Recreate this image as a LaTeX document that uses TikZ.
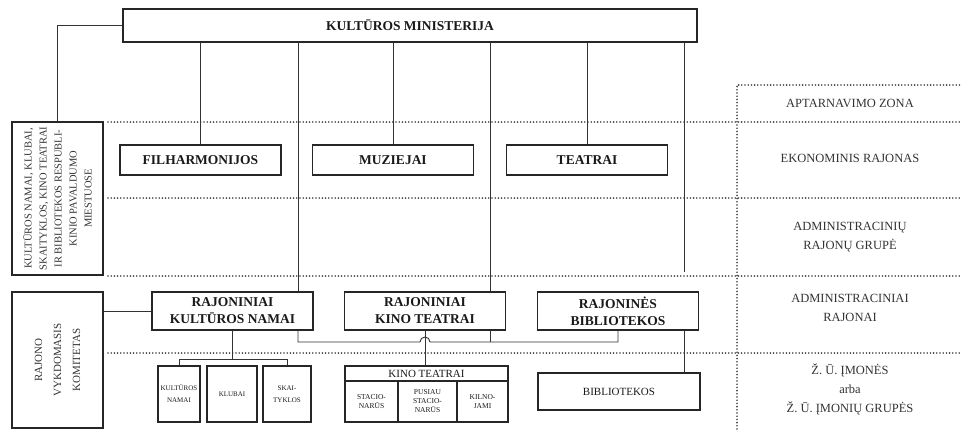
\documentclass[tikz,border=0pt]{standalone}
\usepackage{fontspec}
\setmainfont{Liberation Serif}

\begin{document}
\begin{tikzpicture}[x=1pt, y=-1pt,
    box/.style={draw=black!85, line width=1.1pt, inner sep=0pt, align=center, text=black!90,
      font=\bfseries\fontsize{13.5}{17}\selectfont},
    size/.style 2 args={minimum width=#1pt, minimum height=#2pt},
    plain/.style={box, font=\fontsize{11}{13}\selectfont},
    tiny/.style={box, font=\fontsize{7}{12.5}\selectfont},
    cell/.style={box, font=\fontsize{7.5}{9}\selectfont},
    side/.style={rotate=90, align=center, text=black!80},
    lbl/.style={align=center, text=black!80, font=\fontsize{12.5}{19}\selectfont},
    zone/.style={black!75, line width=1.8pt, line cap=round, dash pattern=on 0pt off 3.2pt},
    link/.style={black!80, line width=0.9pt}]
  \useasboundingbox (0,0) rectangle (962,429);

  % zones
  \foreach \y in {122,198,276,353}
    \draw[zone] (108,\y) -- (962,\y);
  \draw[zone] (737,429) -- (737,85) -- (962,85);
  \node[lbl] (aptzona) at (850,103) {APTARNAVIMO ZONA};
  \node[lbl] (ekraj) at (850,158) {EKONOMINIS RAJONAS};
  \node[lbl] (admgr) at (850,237.5) {ADMINISTRACINIŲ\\RAJONŲ GRUPĖ};
  \node[lbl] (admraj) at (850,308) {ADMINISTRACINIAI\\RAJONAI};
  \node[lbl] (zuim) at (850,389) {Ž. Ū. ĮMONĖS\\arba\\Ž. Ū. ĮMONIŲ GRUPĖS};

  % boxes
  \node[box, line width=2.6pt, size={574}{33}] (mini) at (410,25.5) {KULTŪROS MINISTERIJA};
  \node[box, size={91}{153}] (lka) at (57.5,198.5) {};
  \node[side, font=\fontsize{10.5}{15}\selectfont] (lkatxt) at (lka)
    {KULTŪROS NAMAI, KLUBAI,\\SKAITYKLOS, KINO TEATRAI\\IR BIBLIOTEKOS RESPUBLI-\\KINIO PAVALDUMO\\MIESTUOSE};
  \node[box, size={91}{136}] (rvk) at (57.5,360) {};
  \node[side, font=\fontsize{11}{19}\selectfont] (rvktxt) at (rvk)
    {RAJONO\\VYKDOMASIS\\KOMITETAS};

  \node[box, size={161}{30}] (fil) at (200.5,160) {FILHARMONIJOS};
  \node[box, size={161}{30}] (muz) at (393,160) {MUZIEJAI};
  \node[box, size={161}{30}] (tea) at (587,160) {TEATRAI};

  \node[box, size={161}{38}] (rkn) at (232.5,311) {RAJONINIAI\\KULTŪROS NAMAI};
  \node[box, size={161}{38}] (rkt) at (425,311) {RAJONINIAI\\KINO TEATRAI};
  \node[box, size={161}{38}] (rbib) at (618,311) {RAJONINĖS\\BIBLIOTEKOS};

  \node[tiny, size={42}{56}] (kn1) at (179,394) {KULTŪROS\\NAMAI};
  \node[tiny, size={50}{56}] (kn2) at (232,394) {KLUBAI};
  \node[tiny, size={48}{56}] (kn3) at (287,394) {SKAI-\\TYKLOS};

  \node[plain, size={163}{15}] (kth) at (426.5,373.5) {KINO TEATRAI};
  \node[cell, size={53}{41}] (kt1) at (371.5,401.5) {STACIO-\\NARŪS};
  \node[cell, size={59}{41}] (kt2) at (427.5,401.5) {PUSIAU\\STACIO-\\NARŪS};
  \node[cell, size={51}{41}] (kt3) at (482.5,401.5) {KILNO-\\JAMI};

  \node[plain, size={162}{37}] (bib) at (619,391.5) {BIBLIOTEKOS};

  % connectors
  \coordinate (tapA) at (298,0);
  \coordinate (tapB) at (490,0);
  \coordinate (tend) at (684,272);
  \coordinate (bus) at (0,342);
  \coordinate (sbus) at (0,359);
  \draw[link] (mini.west) -| (lka.north);
  \foreach \n in {fil,muz,tea}
    \draw[link] (mini.south -| \n.north) -- (\n.north);
  \draw[link] (mini.south -| tapA) -- (rkn.north -| tapA);
  \draw[link] (mini.south -| tapB) -- (rkt.north -| tapB);
  \draw[link] (mini.south -| tend) -- (tend);
  \draw[link] (rvk.east |- rkn.west) -- (rkn.west);
  \draw[link] (rkn.south -| tapA) -- (bus -| tapA)
    -- ([xshift=-5pt]bus -| rkt.south) arc[start angle=180, end angle=360, radius=5]
    -- (bus -| rbib.south) -- (rbib.south);
  \draw[link] (rkt.south -| tapB) -- (bus -| tapB);
  \draw[link] (rkt.south) -- (kth.north -| rkt.south);
  \draw[link] (rbib.south -| tend) -- (bib.north -| tend);
  \draw[link] (rkn.south) -- (sbus -| rkn.south);
  \draw[link] (kn1.north) -- (sbus -| kn1.north) -- (sbus -| kn3.north) -- (kn3.north);
\end{tikzpicture}
\end{document}
